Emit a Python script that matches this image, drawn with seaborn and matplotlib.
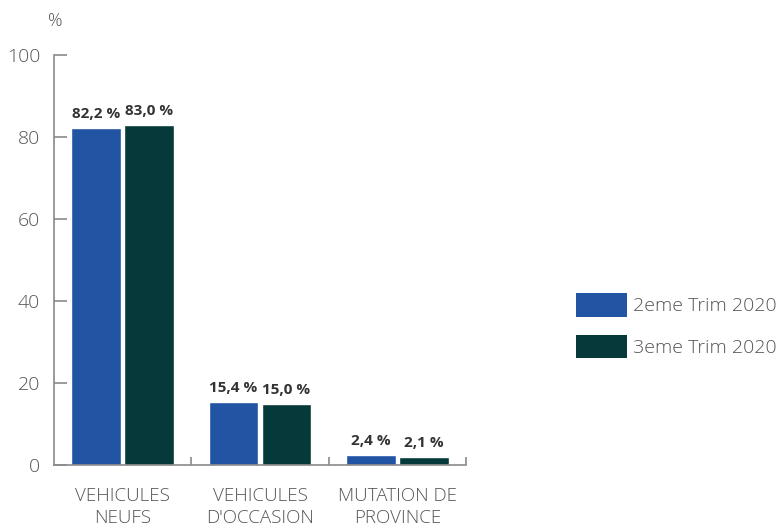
import matplotlib
matplotlib.use("Agg")
import matplotlib.pyplot as plt
import seaborn as sns
import pandas as pd
from matplotlib.patches import Patch

categories = ["VEHICULES\nNEUFS", "VEHICULES\nD'OCCASION", "MUTATION DE\nPROVINCE"]
series = ["2eme Trim 2020", "3eme Trim 2020"]
q2_values = [82.2, 15.4, 2.4]
q3_values = [83.0, 15.0, 2.1]
q2_labels = ["82,2 %", "15,4 %", "2,4 %"]
q3_labels = ["83,0 %", "15,0 %", "2,1 %"]
y_ticks = [0, 20, 40, 60, 80, 100]
colors = ["#2254A4", "#06393A"]

df = pd.DataFrame({
    "cat": categories * 2,
    "serie": [series[0]] * 3 + [series[1]] * 3,
    "val": q2_values + q3_values,
})

sns.set_style("white")
plt.rcParams["font.family"] = ["Open Sans", "DejaVu Sans"]

fig = plt.figure(figsize=(7.79, 5.28), dpi=100)
ax = fig.add_axes([0.0693, 0.119, 0.5289, 0.777])

sns.barplot(data=df, x="cat", y="val", hue="serie", order=categories,
            hue_order=series, palette=colors, width=0.77, gap=0.06,
            saturation=1, legend=False, ax=ax, errorbar=None)

for cont, labs in zip(ax.containers, [q2_labels, q3_labels]):
    ax.bar_label(cont, labels=labs, padding=5, fontsize=11,
                 fontweight="bold", color="#333333")

ax.set_xlim(-0.5, 2.5)
ax.set_ylim(0, 100)
ax.set_yticks(y_ticks)
ax.set_xlabel("")
ax.set_ylabel("")
for s in ["top", "right"]:
    ax.spines[s].set_visible(False)
for s in ["left", "bottom"]:
    ax.spines[s].set_color("#8a8a8a")
    ax.spines[s].set_linewidth(1.2)

ax.tick_params(axis="y", direction="in", length=9, width=1.2, color="#8a8a8a",
               labelsize=14, labelcolor="#555555", pad=10, left=True)
ax.tick_params(axis="x", which="major", length=0, labelsize=13.5,
               labelcolor="#555555", pad=16)
ax.set_xticks([0.5, 1.5, 2.5], minor=True)
ax.tick_params(axis="x", which="minor", direction="in", length=6, width=1.2,
               color="#8a8a8a", bottom=True)
for lab in ax.get_xticklabels() + ax.get_yticklabels():
    lab.set_fontweight("light")
for lab in ax.get_xticklabels():
    lab.set_linespacing(1.25)

ax.text(-0.015, 1.06, "%", transform=ax.transAxes, fontsize=13,
        color="#555555", ha="left", va="bottom", fontweight="light")

handles = [Patch(facecolor=c, edgecolor="none") for c in colors]
leg = fig.legend(handles, series, loc="center left", bbox_to_anchor=(0.739, 0.383),
                 frameon=False, fontsize=14, labelcolor="#555555",
                 handlelength=2.65, handleheight=1.45, handletextpad=0.3,
                 labelspacing=0.95, borderpad=0, borderaxespad=0)
for t in leg.get_texts():
    t.set_fontweight("light")

fig.savefig("out.png", dpi=100)
